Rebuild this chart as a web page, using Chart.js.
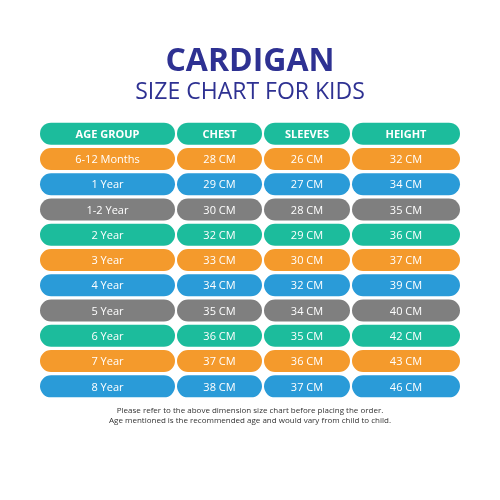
<!DOCTYPE html>
<html><head><meta charset="utf-8">
<script src="https://cdn.jsdelivr.net/npm/chart.js@4"></script>
<style>html,body{margin:0;padding:0;background:#fff}#w{width:500px;height:500px}</style>
</head><body><div id="w"><canvas id="c"></canvas></div>
<script>
const headers = ["AGE GROUP","CHEST","SLEEVES","HEIGHT"];
const ages = ["6-12 Months","1 Year","1-2 Year","2 Year","3 Year","4 Year","5 Year","6 Year","7 Year","8 Year"];
const chest = [28,29,30,32,33,34,35,36,37,38];
const sleeves = [26,27,28,29,30,32,34,35,36,37];
const height = [32,34,35,36,37,39,40,42,43,46];
const unit = " CM";
const palette = ["#1cbc9c","#f49a2c","#2a9bd8","#7f7f7f"];

const rows = [headers].concat(ages.map((a,i)=>[a, chest[i]+unit, sleeves[i]+unit, height[i]+unit]));
const rowLabels = rows.map((r,i)=>"r"+i);
const rowColors = rows.map((r,i)=>palette[i%4]);
const colSpans = [[40,175],[177,262],[264,350],[352,460]];

const datasets = colSpans.map((span,ci)=>({
  data: rows.map(()=>span),
  texts: rows.map(r=>r[ci]),
  backgroundColor: rowColors,
  borderRadius: 11,
  borderSkipped: false,
  barPercentage: 0.87,
  categoryPercentage: 1
}));

const textPlugin = {
  id:'txt',
  afterDraw(chart){
    const ctx = chart.ctx;
    ctx.save();
    ctx.textAlign='center'; ctx.textBaseline='middle';
    chart.data.datasets.forEach((ds,di)=>{
      chart.getDatasetMeta(di).data.forEach((bar,ri)=>{
        ctx.fillStyle='#fff';
        ctx.font=(ri===0?'bold ':'')+'11px "Open Sans", sans-serif';
        ctx.fillText(ds.texts[ri], (bar.x+bar.base)/2, bar.y+1);
      });
    });
    ctx.fillStyle='#2e3192';
    ctx.font='bold 32px "Open Sans", sans-serif';
    ctx.fillText('CARDIGAN',250,62);
    ctx.font='23px "Open Sans", sans-serif';
    ctx.fillText('SIZE CHART FOR KIDS',250,92);
    ctx.fillStyle='#333';
    ctx.font='8px "Open Sans", sans-serif';
    ctx.fillText('Please refer to the above dimension size chart before placing the order.',250,411);
    ctx.fillText('Age mentioned is the recommended age and would vary from child to child.',250,421);
    ctx.restore();
  }
};

new Chart(document.getElementById('c'),{
  type:'bar',
  data:{labels:rowLabels, datasets},
  options:{
    indexAxis:'y', responsive:true, maintainAspectRatio:false, animation:false,
    layout:{padding:{top:121,bottom:101,left:0,right:0}},
    scales:{
      x:{display:false,min:0,max:500},
      y:{display:false,stacked:true}
    },
    plugins:{legend:{display:false},tooltip:{enabled:false},title:{display:false}}
  },
  plugins:[textPlugin]
});
</script></body></html>
